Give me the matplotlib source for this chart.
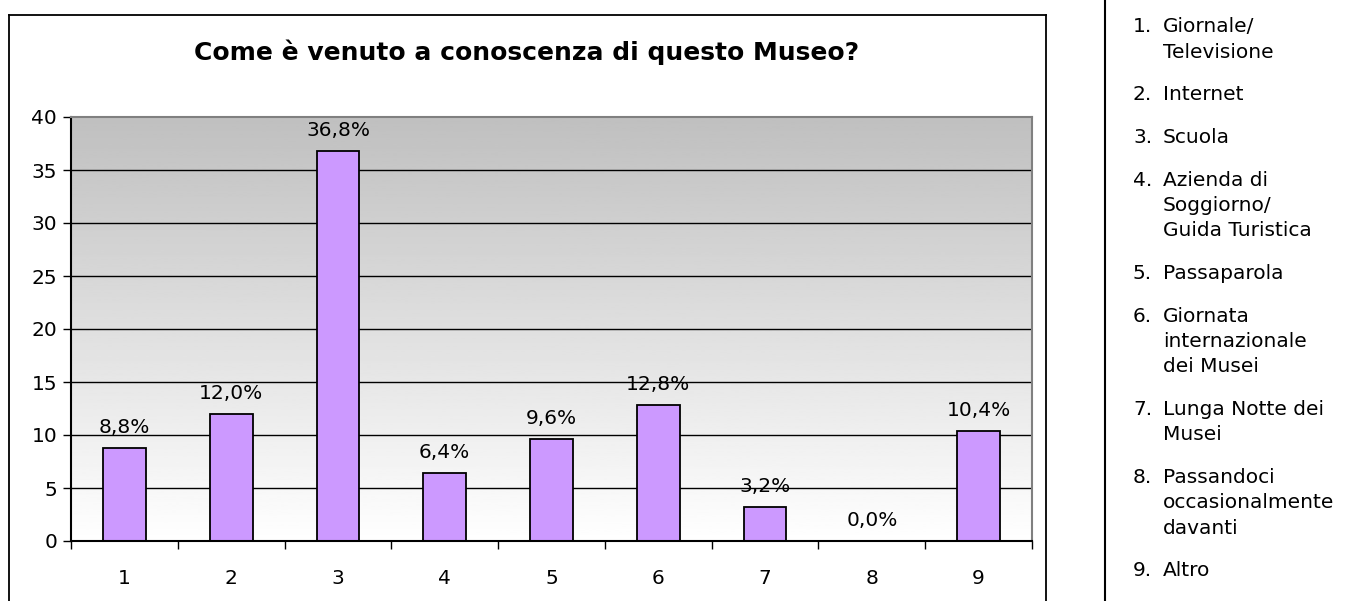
import numpy as np
import matplotlib
matplotlib.use("Agg")
import matplotlib.pyplot as plt
from matplotlib.lines import Line2D

# data
categories = ["1", "2", "3", "4", "5", "6", "7", "8", "9"]
percentages = [8.8, 12.0, 36.8, 6.4, 9.6, 12.8, 3.2, 0.0, 10.4]
legend_items = [
    ("1.", "Giornale/\nTelevisione"),
    ("2.", "Internet"),
    ("3.", "Scuola"),
    ("4.", "Azienda di\nSoggiorno/\nGuida Turistica"),
    ("5.", "Passaparola"),
    ("6.", "Giornata\ninternazionale\ndei Musei"),
    ("7.", "Lunga Notte dei\nMusei"),
    ("8.", "Passandoci\noccasionalmente\ndavanti"),
    ("9.", "Altro"),
]
title = "Come è venuto a conoscenza di questo Museo?"

W, H = 1359, 601
plt.rcParams["font.family"] = ["DejaVu Sans"]
fig = plt.figure(figsize=(W / 100, H / 100), dpi=100)

def fx(px):
    return px / W

def fy(py):
    return 1 - py / H

# outer chart frame (bottom edge runs off the image)
for xs, ys in [((9, 9), (15, 610)), ((9, 1046), (15, 15)), ((1046, 1046), (15, 610))]:
    fig.add_artist(Line2D([fx(x) for x in xs], [fy(y) for y in ys], color="black", lw=1.3))
# separator line for the legend panel
fig.add_artist(Line2D([fx(1105), fx(1105)], [0, 1], color="black", lw=1.5))

fig.text(fx(527), fy(52), title, ha="center", va="center",
         fontsize=18, fontweight="bold")

ax = fig.add_axes([fx(71), fy(541), fx(1032) - fx(71), fy(117) - fy(541)])
x = np.arange(len(categories))

# gray (top) to white (bottom) background gradient
grad = np.linspace(0.75, 1.0, 256).reshape(-1, 1)
ax.imshow(grad, cmap="gray", vmin=0, vmax=1, aspect="auto", origin="upper",
          extent=[-0.5, len(categories) - 0.5, 0, 40], zorder=0)

ax.bar(x, percentages, width=0.4, color="#CC99FF", edgecolor="black",
       linewidth=1.3, zorder=3)
for xi, v in zip(x, percentages):
    ax.annotate(f"{v:.1f}%".replace(".", ","), (xi, v), xytext=(0, 8),
                textcoords="offset points", ha="center", va="bottom", fontsize=14.5)

ax.set_xlim(-0.5, len(categories) - 0.5)
ax.set_ylim(0, 40)
ax.set_yticks(range(0, 41, 5))
for yv in range(5, 40, 5):
    ax.axhline(yv, color="black", lw=1.0, zorder=1)

ax.set_xticks(x)
ax.set_xticklabels(categories)
ax.set_xticks(np.arange(-0.5, len(categories)), minor=True)
ax.tick_params(axis="x", which="major", length=0, pad=20, labelsize=14.5)
ax.tick_params(axis="x", which="minor", length=6, width=1, color="black")
ax.tick_params(axis="y", length=6, width=1, labelsize=14.5, pad=4)

ax.spines["left"].set_color("black")
ax.spines["bottom"].set_color("black")
ax.spines["top"].set_color("#808080")
ax.spines["right"].set_color("#808080")
for s in ax.spines.values():
    s.set_linewidth(1.5)
    s.set_zorder(4)

# legend panel text
y = 27
line_h = 25.5
gap = 17
for num, txt in legend_items:
    fig.text(fx(1133), fy(y), num, ha="left", va="center", fontsize=14.5)
    for i, line in enumerate(txt.split("\n")):
        fig.text(fx(1163), fy(y + i * line_h), line, ha="left", va="center", fontsize=14.5)
    y += len(txt.split("\n")) * line_h + gap

fig.savefig("out.png", dpi=100)
